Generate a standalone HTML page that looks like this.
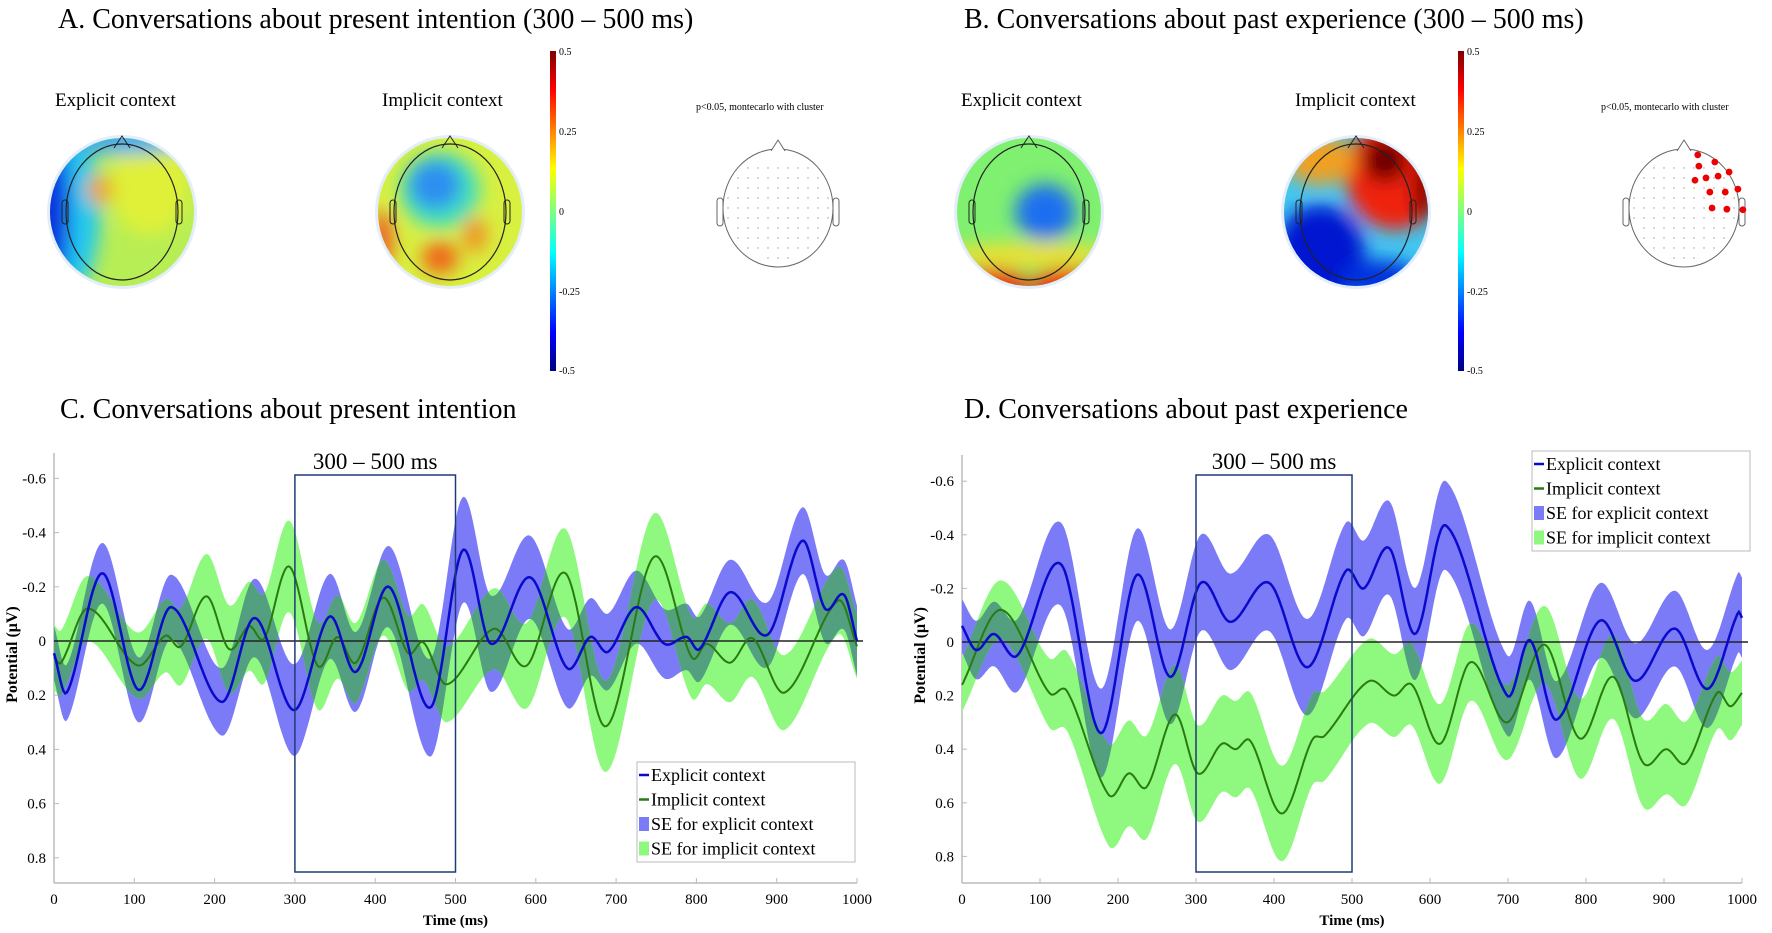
<!DOCTYPE html>
<html><head><meta charset="utf-8"><style>
html,body{margin:0;padding:0;background:#fff;}
svg{display:block;font-family:"Liberation Serif",serif;}
</style></head><body>
<svg id="fig" width="1772" height="933" viewBox="0 0 1772 933">
<defs>
 <filter id="blur" x="-50%" y="-50%" width="200%" height="200%"><feGaussianBlur stdDeviation="9"/></filter>
 <linearGradient id="jet" x1="0" y1="1" x2="0" y2="0">
  <stop offset="0" stop-color="#00007f"/><stop offset="0.12" stop-color="#0000ff"/>
  <stop offset="0.37" stop-color="#00ffff"/><stop offset="0.5" stop-color="#7fff7f"/>
  <stop offset="0.63" stop-color="#ffff00"/><stop offset="0.88" stop-color="#ff0000"/>
  <stop offset="1" stop-color="#7f0000"/>
 </linearGradient>
 <clipPath id="cA1"><ellipse cx="122" cy="212" rx="72" ry="74"/></clipPath>
 <clipPath id="cA2"><ellipse cx="450" cy="212" rx="72" ry="74"/></clipPath>
 <clipPath id="cB1"><ellipse cx="1029" cy="212" rx="72" ry="74"/></clipPath>
 <clipPath id="cB2"><ellipse cx="1356" cy="212" rx="72" ry="74"/></clipPath>
</defs>

<text x="58" y="28" font-size="28">A. Conversations about present intention (300 – 500 ms)</text>
<text x="964" y="28" font-size="28">B. Conversations about past experience (300 – 500 ms)</text>
<text x="55" y="106" font-size="19">Explicit context</text>
<text x="382" y="106" font-size="19">Implicit context</text>
<text x="696" y="110" font-size="10">p&lt;0.05, montecarlo with cluster</text>
<text x="961" y="106" font-size="19">Explicit context</text>
<text x="1295" y="106" font-size="19">Implicit context</text>
<text x="1601" y="110" font-size="10">p&lt;0.05, montecarlo with cluster</text>

<g>
 <ellipse cx="122" cy="212" rx="75" ry="77" fill="#e4eefa"/>
 <g clip-path="url(#cA1)">
  <rect x="40" y="130" width="170" height="170" fill="#b8ee55"/>
  <g filter="url(#blur)">
   <ellipse cx="150" cy="185" rx="40" ry="50" fill="#e0f038"/>
   <ellipse cx="60" cy="212" rx="40" ry="90" fill="#20c8f0"/>
   <ellipse cx="48" cy="212" rx="22" ry="90" fill="#0a30e0"/>
   <ellipse cx="122" cy="140" rx="70" ry="14" fill="#3aa8f0"/>
   <ellipse cx="100" cy="190" rx="14" ry="14" fill="#f0a020"/>
  </g>
 </g>
 <path d="M114,148 L122,136 L130,148" fill="none" stroke="#222" stroke-width="1"/>
 <ellipse cx="122" cy="212" rx="56" ry="68" fill="none" stroke="#222" stroke-width="1.2"/>
 <rect x="62" y="200" width="6" height="24" rx="3" fill="none" stroke="#222"/>
 <rect x="176" y="200" width="6" height="24" rx="3" fill="none" stroke="#222"/>
</g>
<g>
 <ellipse cx="450" cy="212" rx="75" ry="77" fill="#e4eefa"/>
 <g clip-path="url(#cA2)">
  <rect x="370" y="130" width="170" height="170" fill="#d8f040"/>
  <g filter="url(#blur)">
   <ellipse cx="440" cy="190" rx="40" ry="38" fill="#40e0c0"/>
   <ellipse cx="435" cy="185" rx="26" ry="25" fill="#2f8ef0"/>
   <ellipse cx="440" cy="258" rx="18" ry="16" fill="#f06018"/>
   <ellipse cx="475" cy="235" rx="12" ry="18" fill="#f09020"/>
   <ellipse cx="382" cy="240" rx="10" ry="30" fill="#f05020"/>
  </g>
 </g>
 <path d="M442,148 L450,136 L458,148" fill="none" stroke="#222" stroke-width="1"/>
 <ellipse cx="450" cy="212" rx="56" ry="68" fill="none" stroke="#222" stroke-width="1.2"/>
 <rect x="390" y="200" width="6" height="24" rx="3" fill="none" stroke="#222"/>
 <rect x="504" y="200" width="6" height="24" rx="3" fill="none" stroke="#222"/>
</g>
<g>
 <ellipse cx="1029" cy="212" rx="75" ry="77" fill="#e4eefa"/>
 <g clip-path="url(#cB1)">
  <rect x="950" y="130" width="170" height="170" fill="#80f070"/>
  <g filter="url(#blur)">
   <ellipse cx="1045" cy="212" rx="30" ry="28" fill="#1a6ef0"/>
   <ellipse cx="1029" cy="255" rx="90" ry="12" fill="#f0e030"/>
   <ellipse cx="990" cy="285" rx="40" ry="16" fill="#f02010"/>
   <ellipse cx="1070" cy="285" rx="40" ry="16" fill="#f02010"/>
  </g>
 </g>
 <path d="M1021,148 L1029,136 L1037,148" fill="none" stroke="#222" stroke-width="1"/>
 <ellipse cx="1029" cy="212" rx="56" ry="68" fill="none" stroke="#222" stroke-width="1.2"/>
 <rect x="969" y="200" width="6" height="24" rx="3" fill="none" stroke="#222"/>
 <rect x="1083" y="200" width="6" height="24" rx="3" fill="none" stroke="#222"/>
</g>
<g>
 <ellipse cx="1356" cy="212" rx="75" ry="77" fill="#e4eefa"/>
 <g clip-path="url(#cB2)">
  <rect x="1276" y="130" width="170" height="170" fill="#40c8f0"/>
  <g filter="url(#blur)">
   <ellipse cx="1320" cy="255" rx="45" ry="50" fill="#0018d0"/>
   <ellipse cx="1380" cy="280" rx="40" ry="20" fill="#0030e0"/>
   <ellipse cx="1395" cy="175" rx="50" ry="55" fill="#f02010"/>
   <ellipse cx="1320" cy="160" rx="35" ry="25" fill="#f0a020"/>
   <ellipse cx="1385" cy="160" rx="22" ry="22" fill="#6a0000"/>
   <ellipse cx="1425" cy="190" rx="12" ry="30" fill="#800000"/>
  </g>
 </g>
 <path d="M1348,148 L1356,136 L1364,148" fill="none" stroke="#222" stroke-width="1"/>
 <ellipse cx="1356" cy="212" rx="56" ry="68" fill="none" stroke="#222" stroke-width="1.2"/>
 <rect x="1296" y="200" width="6" height="24" rx="3" fill="none" stroke="#222"/>
 <rect x="1410" y="200" width="6" height="24" rx="3" fill="none" stroke="#222"/>
</g>

<g>
 <rect x="550" y="51" width="6" height="320" fill="url(#jet)"/>
 <g font-size="10"><text x="559" y="55">0.5</text><text x="559" y="135">0.25</text><text x="559" y="215">0</text><text x="559" y="295">-0.25</text><text x="559" y="374">-0.5</text></g>
</g>
<g>
 <rect x="1458" y="51" width="6" height="320" fill="url(#jet)"/>
 <g font-size="10"><text x="1467" y="55">0.5</text><text x="1467" y="135">0.25</text><text x="1467" y="215">0</text><text x="1467" y="295">-0.25</text><text x="1467" y="374">-0.5</text></g>
</g>

<g fill="none" stroke="#666" stroke-width="1">
 <ellipse cx="778" cy="208" rx="55" ry="59"/>
 <path d="M771,151 L778,140 L785,151" fill="#fff"/>
 <rect x="717" y="198" width="6" height="28" rx="3"/><rect x="833" y="198" width="6" height="28" rx="3"/>
</g>
<g fill="none" stroke="#666" stroke-width="1">
 <ellipse cx="1684" cy="208" rx="55" ry="59"/>
 <path d="M1677,151 L1684,140 L1691,151" fill="#fff"/>
 <rect x="1623" y="198" width="6" height="28" rx="3"/><rect x="1739" y="198" width="6" height="28" rx="3"/>
</g>
<g id="elecA" fill="#999"></g>
<g id="elecB" fill="#999"></g>
<g id="sigdots" fill="#ee0000"></g>

<text x="60" y="418" font-size="28">C. Conversations about present intention</text>
<text x="964" y="418" font-size="28">D. Conversations about past experience</text>
<g id="chartC"></g>
<g id="chartD"></g>
</svg>
<script>
// ---- Panel C data (time ms, potential µV) ----
const cExpT=[0,16,60,105,146,209,250,299,343,376,417,469,509,544,593,639,668,690,725,760,788,804,842,889,932,960,984,1000];
const cExpV=[0.045,0.19,-0.25,0.18,-0.125,0.225,-0.085,0.255,-0.09,0.114,-0.2,0.245,-0.335,0.01,-0.235,0.1,-0.015,0.04,-0.125,0.01,-0.015,0.03,-0.18,-0.024,-0.37,-0.12,-0.17,0.0];
const cImpT=[0,9,42,104,139,158,190,218,243,262,293,328,353,376,410,441,460,489,548,589,637,687,747,794,813,842,870,910,977,1000];
const cImpV=[0.06,0.08,-0.12,0.09,-0.02,0.02,-0.165,0.03,-0.055,-0.01,-0.275,0.09,-0.015,0.08,-0.16,0.045,0.005,0.16,-0.045,0.09,-0.25,0.315,-0.31,0.06,0.01,0.08,-0.01,0.19,-0.15,0.02];
const seT=[0,100,200,300,400,500,600,700,800,900,1000];
const cExpSE=[0.1,0.12,0.12,0.17,0.14,0.2,0.15,0.14,0.12,0.12,0.13];
const cImpSE=[0.12,0.12,0.16,0.17,0.14,0.14,0.16,0.17,0.15,0.14,0.12];
// ---- Panel D data ----
const dExpT=[0,18,41,71,127,178,224,267,306,344,394,443,492,515,548,581,620,699,728,762,818,863,914,956,995,1000];
const dExpV=[-0.06,0.03,-0.03,0.05,-0.29,0.34,-0.25,0.13,-0.22,-0.075,-0.22,0.094,-0.265,-0.2,-0.35,-0.03,-0.435,0.2,-0.007,0.29,-0.08,0.145,-0.05,0.175,-0.11,-0.09];
const dImpT=[0,50,112,135,188,214,237,273,302,333,351,370,410,449,465,521,554,577,613,652,699,747,792,835,873,903,929,968,985,1000];
const dImpV=[0.16,-0.12,0.19,0.185,0.57,0.49,0.54,0.27,0.49,0.38,0.4,0.37,0.64,0.365,0.35,0.147,0.2,0.16,0.38,0.075,0.3,0.01,0.36,0.13,0.45,0.4,0.45,0.19,0.24,0.19];
const dExpSE=[0.1,0.15,0.17,0.18,0.18,0.18,0.17,0.15,0.14,0.14,0.15];
const dImpSE=[0.1,0.12,0.2,0.18,0.18,0.16,0.15,0.14,0.15,0.17,0.12];
const yTicks=[-0.6,-0.4,-0.2,0,0.2,0.4,0.6,0.8];
const yTickLabels=["-0.6","-0.4","-0.2","0","0.2","0.4","0.6","0.8"];
const xTicks=[0,100,200,300,400,500,600,700,800,900,1000];
const legendLabels=["Explicit context","Implicit context","SE for explicit context","SE for implicit context"];
// significant electrode positions (normalized head coords)
const sigX=[0.25,0.56,0.27,0.82,0.62,0.40,0.20,0.98,0.75,0.47,0.51,0.78,1.07];
const sigY=[-0.90,-0.78,-0.71,-0.61,-0.54,-0.51,-0.47,-0.32,-0.27,-0.27,0.0,0.02,0.03];

const NS="http://www.w3.org/2000/svg";
function mk(tag,attrs,parent){const e=document.createElementNS(NS,tag);for(const k in attrs)e.setAttribute(k,attrs[k]);parent.appendChild(e);return e;}
function hermite(T,V,t){
  let i=0;while(i<T.length-2&&t>T[i+1])i++;
  const n=T.length;
  const m=j=> j===0?(V[1]-V[0])/(T[1]-T[0]): j===n-1?(V[n-1]-V[n-2])/(T[n-1]-T[n-2]) : (V[j+1]-V[j-1])/(T[j+1]-T[j-1]);
  const h=T[i+1]-T[i],s=(t-T[i])/h,s2=s*s,s3=s2*s;
  return (2*s3-3*s2+1)*V[i]+(s3-2*s2+s)*h*m(i)+(-2*s3+3*s2)*V[i+1]+(s3-s2)*h*m(i+1);
}
function lin(T,V,t){let i=0;while(i<T.length-2&&t>T[i+1])i++;const s=(t-T[i])/(T[i+1]-T[i]);return V[i]+(V[i+1]-V[i])*s;}

function drawChart(g,cfg){
  const X=t=>cfg.x0+t*cfg.xs, Y=v=>cfg.yz+v*cfg.ys;
  const id=cfg.id;
  const ax=mk('line',{x1:X(0),y1:cfg.top,x2:X(0),y2:cfg.bot,stroke:'#bbb','stroke-width':1.5},g);
  
  
  const bx=mk('line',{x1:X(0),y1:cfg.bot,x2:X(1000),y2:cfg.bot,stroke:'#bbb','stroke-width':1.5},g);
  
  
  yTicks.forEach((v,i)=>{
    mk('line',{x1:X(0),y1:Y(v),x2:X(0)+5,y2:Y(v),stroke:'#bbb'},g);
    const t=mk('text',{x:X(0)-8,y:Y(v)+5,'font-size':15,'text-anchor':'end'},g);
    t.textContent=yTickLabels[i];
    
    
  });
  xTicks.forEach(v=>{
    mk('line',{x1:X(v),y1:cfg.bot,x2:X(v),y2:cfg.bot-5,stroke:'#bbb'},g);
    const t=mk('text',{x:X(v),y:cfg.bot+21,'font-size':15,'text-anchor':'middle'},g);
    t.textContent=v;
    
    
  });
  const xt=mk('text',{x:X(500),y:cfg.bot+42,'font-size':15,'text-anchor':'middle','font-weight':'bold'},g);
  xt.textContent='Time (ms)';
  
  
  const yt=mk('text',{x:0,y:0,'font-size':16,'text-anchor':'middle','font-weight':'bold',transform:`translate(${X(0)-37},${Y(0.05)}) rotate(-90)`},g);
  yt.textContent='Potential (μV)';
  
  
  function band(T,V,SE){let up='',dn=[];for(let t=0;t<=1000;t+=2){const m=hermite(T,V,t),s=lin(seT,SE,t);up+=(t?'L':'M')+X(t).toFixed(1)+','+Y(m-s).toFixed(1);dn.push('L'+X(t).toFixed(1)+','+Y(m+s).toFixed(1));}return up+dn.reverse().join('')+'Z';}
  function line(T,V){let d='';for(let t=0;t<=1000;t+=2){d+=(t?'L':'M')+X(t).toFixed(1)+','+Y(hermite(T,V,t)).toFixed(1);}return d;}
  const bd=band(cfg.eT,cfg.eV,cfg.eSE), gd=band(cfg.iT,cfg.iV,cfg.iSE);
  const cp=mk('clipPath',{id:'clip'+id},g);mk('path',{d:bd},cp);
  const b1=mk('path',{d:bd,fill:'#7b7bf7'},g);
  
  
  const b2=mk('path',{d:gd,fill:'#8ff97f'},g);
  
  
  mk('path',{d:gd,fill:'#52a07f','clip-path':`url(#clip${id})`},g);
  mk('line',{x1:X(0),y1:Y(0),x2:X(1000)+6,y2:Y(0),stroke:'#222','stroke-width':1.5},g);
  const l2=mk('path',{d:line(cfg.iT,cfg.iV),fill:'none',stroke:'#2a7a12','stroke-width':2},g);
  
  
  const l1=mk('path',{d:line(cfg.eT,cfg.eV),fill:'none',stroke:'#0a0acc','stroke-width':2.5},g);
  
  
  const r=mk('rect',{x:X(300),y:cfg.boxTop,width:X(500)-X(300),height:cfg.boxBot-cfg.boxTop,fill:'none',stroke:'#1f3a78','stroke-width':1.5},g);
  
  
  const wl=mk('text',{x:X(400),y:cfg.boxTop-6,'font-size':23,'text-anchor':'middle'},g);
  wl.textContent='300 – 500 ms';
  
  
  const L=cfg.leg;
  const lg=mk('g',{},g);
  
  
  mk('rect',{x:L.x,y:L.y,width:L.w,height:L.h,fill:'#fff',stroke:'#bbb'},lg);
  const cols=['#0a0acc','#2a7a12','#7b7bf7','#8ff97f'];
  legendLabels.forEach((s,i)=>{
    const cy=L.y+13+i*L.step;
    if(i<2) mk('line',{x1:L.x+2,y1:cy,x2:L.x+12,y2:cy,stroke:cols[i],'stroke-width':2.5},lg);
    else mk('rect',{x:L.x+2,y:cy-7,width:10,height:14,fill:cols[i]},lg);
    const t=mk('text',{x:L.x+14,y:cy+6,'font-size':18},lg);
    t.textContent=s;
    
    
  });
}
drawChart(document.getElementById('chartC'),{id:'C',x0:54,xs:0.803,yz:641,ys:271,top:453,bot:883,boxTop:475,boxBot:872,
  eT:cExpT,eV:cExpV,eSE:cExpSE,iT:cImpT,iV:cImpV,iSE:cImpSE,leg:{x:637,y:762,w:218,h:100,step:24.5}});
drawChart(document.getElementById('chartD'),{id:'D',x0:962,xs:0.78,yz:642,ys:268,top:455,bot:883,boxTop:475,boxBot:872,
  eT:dExpT,eV:dExpV,eSE:dExpSE,iT:dImpT,iV:dImpV,iSE:dImpSE,leg:{x:1532,y:451,w:218,h:100,step:24.5}});
// electrode grid (decorative)
[['elecA',778],['elecB',1684]].forEach(([gid,cx])=>{
  const g=document.getElementById(gid);
  for(let r=-4;r<=5;r++){for(let c=-5;c<=5;c++){
    const u=c/5.2,v=r/5.2;if(u*u+v*v>1.05)continue;
    mk('circle',{cx:cx+u*52,cy:208+v*52,r:0.7},g);
  }}
});
const sg=document.getElementById('sigdots');
sigX.forEach((u,i)=>{
  const c=mk('circle',{cx:1684+u*55,cy:208+sigY[i]*59,r:3.4},sg);
  
  
});
</script>
</body></html>
